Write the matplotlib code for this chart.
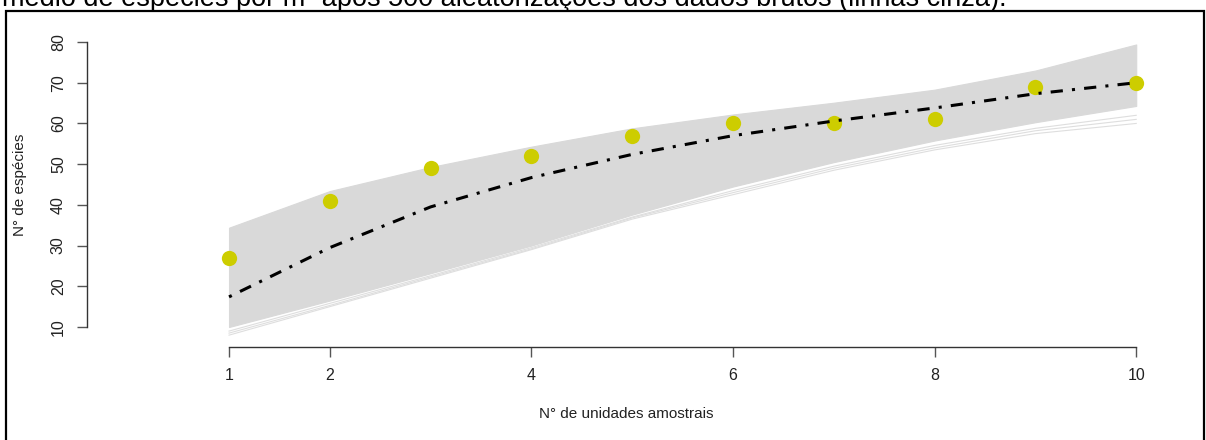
import matplotlib
matplotlib.use("Agg")
import matplotlib.pyplot as plt
from matplotlib.patches import Rectangle

plt.rcParams['font.family'] = ['Liberation Sans', 'DejaVu Sans']

# Sample units and observed species richness
units = [1, 2, 3, 4, 5, 6, 7, 8, 9, 10]
observed = [27, 41, 49, 52, 57, 60, 60, 61, 69, 70]

# Mean accumulation curve over the randomizations
mean_curve = [17.4, 29.5, 39.5, 46.7, 52.4, 57.0, 60.6, 63.8, 67.3, 70.0]

# Envelope of the randomized accumulation curves
rand_upper = [34.4, 43.4, 49.3, 54.3, 58.8, 62.2, 65.1, 68.3, 73.0, 79.4]
rand_lower = [10.0, 16.5, 23.2, 30.0, 37.6, 44.5, 50.5, 55.8, 60.3, 64.3]

# Sparse randomized curves below the dense envelope
rand_low_a = [9.0, 15.8, 22.6, 29.5, 37.0, 43.5, 49.5, 54.6, 58.8, 62.0]
rand_low_b = [8.5, 15.3, 22.3, 29.2, 36.8, 43.0, 49.0, 54.0, 58.2, 61.0]
rand_low_c = [8.0, 15.0, 22.0, 29.0, 36.5, 42.5, 48.5, 53.5, 57.5, 60.0]

x_ticks = [1, 2, 4, 6, 8, 10]
y_ticks = [10, 20, 30, 40, 50, 60, 70, 80]

W, H = 1206, 440
fig = plt.figure(figsize=(W / 100, H / 100), dpi=100)

# Page frame and the caption line running above it
fig.patches.append(Rectangle((6 / W, -0.05), (1204 - 6) / W, 1.05 - 11 / H,
                             transform=fig.transFigure, fill=False,
                             edgecolor='black', linewidth=1.6))
fig.text(2 / W, 1 - 6 / H,
         "médio de espécies por m² após 500 aleatorizações dos dados brutos (linhas cinza).",
         fontsize=19.5, color='black', ha='left', va='baseline')

left, right = 87, 1172
bottom, top = 347, 32
ax = fig.add_axes([left / W, 1 - bottom / H, (right - left) / W, (bottom - top) / H])
ax.set_xlim(-0.409, 10.355)
ax.set_ylim(5.09, 82.46)
ax.patch.set_alpha(0)

band = '#D9D9D9'
ax.fill_between(units, rand_lower, rand_upper, color=band, linewidth=0.8,
                edgecolor=band, zorder=1)
for curve in (rand_low_a, rand_low_b, rand_low_c):
    ax.plot(units, curve, color='#DEDEDE', linewidth=0.8, zorder=1)

ax.plot(units, observed, linestyle='none', marker='o', markersize=11,
        color='#CDCD00', markeredgewidth=0, zorder=3)

line, = ax.plot(units, mean_curve, color='black', linewidth=2.2, zorder=4,
                solid_capstyle='butt')
line.set_dashes([1, 3, 4, 3])

for side in ('top', 'right'):
    ax.spines[side].set_visible(False)
ax.spines['left'].set_bounds(10, 80)
ax.spines['bottom'].set_bounds(1, 10)
for side in ('left', 'bottom'):
    ax.spines[side].set_color('#333333')
    ax.spines[side].set_linewidth(1.0)

ax.set_xticks(x_ticks)
ax.set_xticklabels([str(v) for v in x_ticks])
ax.set_yticks(y_ticks)
ax.set_yticklabels([str(v) for v in y_ticks], rotation=90, va='center')
ax.tick_params(axis='both', length=7.2, width=1.0, color='#555555',
               labelsize=11.5, labelcolor='#222222')
ax.tick_params(axis='x', pad=8)
ax.tick_params(axis='y', pad=8)

fig.text(20 / W, 1 - 185 / H, "N° de espécies", rotation=90, fontsize=11,
         color='#222222', ha='center', va='center')
fig.text(626 / W, 1 - 414 / H, "N° de unidades amostrais", fontsize=11,
         color='#222222', ha='center', va='center')

fig.savefig('out.png', dpi=100)
